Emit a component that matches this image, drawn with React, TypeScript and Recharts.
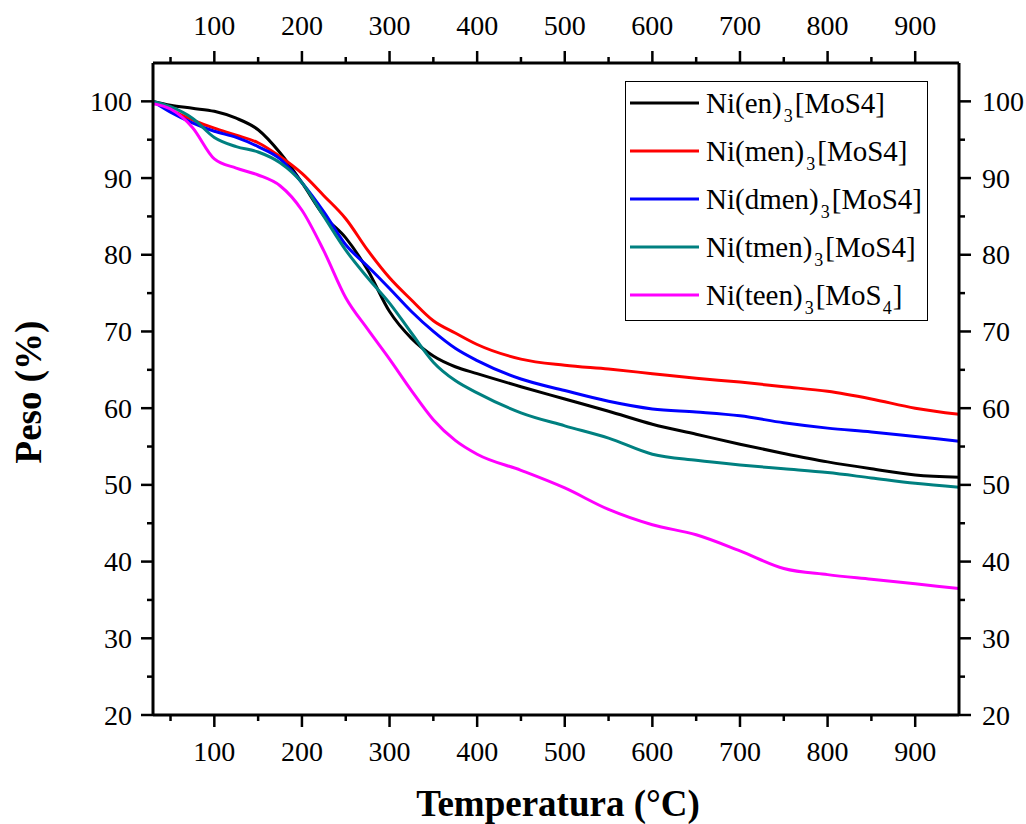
import React from 'react';
import { LineChart, Line, XAxis, YAxis, Legend } from 'recharts';

const FONT = '"Liberation Serif", "Times New Roman", Times, serif';

// Temperature (°C) sample points
const temperatures = [30, 50, 75, 100, 125, 150, 175, 200, 225, 250, 275, 300, 325, 350, 375, 400, 450, 500, 550, 600, 650, 700, 750, 800, 850, 900, 950];

// Weight (%) for each compound
const enValues = [100, 99.5, 99.1, 98.7, 97.8, 96.3, 93.3, 89.4, 85.1, 82.2, 78.0, 72.6, 69.1, 66.8, 65.4, 64.5, 62.8, 61.2, 59.6, 57.9, 56.6, 55.3, 54.1, 53.0, 52.1, 51.3, 51.0];
const menValues = [100, 98.9, 97.6, 96.5, 95.6, 94.6, 92.8, 90.6, 87.7, 84.7, 80.6, 77.0, 74.1, 71.4, 69.8, 68.3, 66.4, 65.6, 65.1, 64.5, 63.9, 63.4, 62.8, 62.2, 61.2, 60.0, 59.2];
const dmenValues = [100, 98.6, 97.2, 96.1, 95.3, 94.1, 92.5, 89.4, 85.6, 81.3, 78.5, 75.6, 72.6, 70.0, 67.8, 66.2, 63.8, 62.3, 60.9, 59.9, 59.5, 59.0, 58.1, 57.4, 56.9, 56.3, 55.7];
const tmenValues = [100, 99.3, 97.8, 95.3, 94.1, 93.4, 92.0, 89.4, 85.0, 80.6, 77.0, 73.7, 69.8, 66.0, 63.6, 62.0, 59.4, 57.7, 56.1, 54.0, 53.2, 52.6, 52.1, 51.6, 50.9, 50.2, 49.7];
const teenValues = [99.7, 99.0, 96.6, 92.5, 91.3, 90.4, 89.0, 85.8, 80.5, 74.4, 70.3, 66.4, 62.3, 58.5, 55.8, 54.0, 51.9, 49.6, 46.8, 44.8, 43.5, 41.4, 39.1, 38.3, 37.7, 37.1, 36.5];

// Ticks
const xTicks = [50, 100, 150, 200, 250, 300, 350, 400, 450, 500, 550, 600, 650, 700, 750, 800, 850, 900];
const xLabelStep = 100;
const yTicks = [20, 25, 30, 35, 40, 45, 50, 55, 60, 65, 70, 75, 80, 85, 90, 95, 100];
const yLabelStep = 10;

// Series metadata
const seriesKeys = ['en', 'men', 'dmen', 'tmen', 'teen'];
const seriesColors = ['#000000', '#FF0000', '#0000FF', '#008080', '#FF00FF'];
const seriesLigands = ['en', 'men', 'dmen', 'tmen', 'teen'];
const seriesSubscriptAnion = [false, false, false, false, true];

const data = temperatures.map((t, i) => ({
  t,
  en: enValues[i],
  men: menValues[i],
  dmen: dmenValues[i],
  tmen: tmenValues[i],
  teen: teenValues[i],
}));

const MAJOR = 12;
const MINOR = 6;
const TICK_FONT = 28;

const BottomTick = (props: any) => {
  const { x, y, payload } = props;
  const major = payload.value % xLabelStep === 0;
  return (
    <g>
      <line x1={x} y1={y} x2={x} y2={y + (major ? MAJOR : MINOR)} stroke="#000" strokeWidth={2.5} />
      {major && (
        <text x={x} y={y + 46} textAnchor="middle" fontFamily={FONT} fontSize={TICK_FONT} fill="#000">
          {payload.value}
        </text>
      )}
    </g>
  );
};

const TopTick = (props: any) => {
  const { x, y, payload } = props;
  const major = payload.value % xLabelStep === 0;
  return (
    <g>
      <line x1={x} y1={y} x2={x} y2={y - (major ? MAJOR : MINOR)} stroke="#000" strokeWidth={2.5} />
      {major && (
        <text x={x} y={y - 28} textAnchor="middle" fontFamily={FONT} fontSize={TICK_FONT} fill="#000">
          {payload.value}
        </text>
      )}
    </g>
  );
};

const LeftTick = (props: any) => {
  const { x, y, payload } = props;
  const major = payload.value % yLabelStep === 0;
  return (
    <g>
      <line x1={x - (major ? MAJOR : MINOR)} y1={y} x2={x} y2={y} stroke="#000" strokeWidth={2.5} />
      {major && (
        <text x={x - 21} y={y} dy="0.34em" textAnchor="end" fontFamily={FONT} fontSize={TICK_FONT} fill="#000">
          {payload.value}
        </text>
      )}
    </g>
  );
};

const RightTick = (props: any) => {
  const { x, y, payload } = props;
  const major = payload.value % yLabelStep === 0;
  return (
    <g>
      <line x1={x} y1={y} x2={x + (major ? MAJOR : MINOR)} y2={y} stroke="#000" strokeWidth={2.5} />
      {major && (
        <text x={x + 23} y={y} dy="0.34em" textAnchor="start" fontFamily={FONT} fontSize={TICK_FONT} fill="#000">
          {payload.value}
        </text>
      )}
    </g>
  );
};

const XTitle = () => (
  <text x={558} y={816} textAnchor="middle" fontFamily={FONT} fontSize={37} fontWeight="bold" fill="#000">
    Temperatura (°C)
  </text>
);

const YTitle = () => (
  <text
    x={0}
    y={0}
    transform="translate(41, 392) rotate(-90)"
    textAnchor="middle"
    fontFamily={FONT}
    fontSize={37}
    fontWeight="bold"
    fill="#000"
  >
    Peso (%)
  </text>
);

const LegendBox = () => (
  <div
    style={{
      position: 'relative',
      width: 303,
      height: 240,
      boxSizing: 'border-box',
      border: '1.5px solid #000',
      background: '#fff',
      fontFamily: FONT,
      fontSize: 29,
      color: '#000',
    }}
  >
    {seriesKeys.map((k, i) => (
      <div
        key={k}
        style={{
          position: 'absolute',
          left: 0,
          top: 20.7 + i * 48 - 16,
          height: 32,
          lineHeight: '32px',
          whiteSpace: 'nowrap',
        }}
      >
        <svg width={72} height={32} style={{ position: 'absolute', left: 3, top: 0 }}>
          <line x1={1} y1={16} x2={70} y2={16} stroke={seriesColors[i]} strokeWidth={3} />
        </svg>
        <span style={{ position: 'absolute', left: 80, top: 0 }}>
          Ni({seriesLigands[i]})
          <span style={{ fontSize: 18, position: 'relative', top: 9, margin: '0 2px' }}>3</span>
          [MoS
          {seriesSubscriptAnion[i] ? (
            <span style={{ fontSize: 18, position: 'relative', top: 9, margin: '0 1px' }}>4</span>
          ) : (
            '4'
          )}
          ]
        </span>
      </div>
    ))}
  </div>
);

export default function App() {
  return (
    <div style={{ position: 'absolute', left: 0, top: 0, width: 1026, height: 824, background: '#fff' }}>
      <LineChart width={1026} height={824} data={data} margin={{ top: 0, right: 0, bottom: 0, left: 0 }}>
        <XAxis
          xAxisId="bottom"
          dataKey="t"
          type="number"
          orientation="bottom"
          domain={[30, 950]}
          ticks={xTicks}
          interval={0}
          height={109}
          tickSize={0}
          tickMargin={0}
          tickLine={false}
          tick={(p: any) => <BottomTick {...p} />}
          axisLine={{ stroke: '#000', strokeWidth: 3 }}
          allowDataOverflow
        />
        <XAxis
          xAxisId="top"
          dataKey="t"
          type="number"
          orientation="top"
          domain={[30, 950]}
          ticks={xTicks}
          interval={0}
          height={63}
          tickSize={0}
          tickMargin={0}
          tickLine={false}
          tick={(p: any) => <TopTick {...p} />}
          axisLine={{ stroke: '#000', strokeWidth: 3 }}
          allowDataOverflow
        />
        <YAxis
          yAxisId="left"
          type="number"
          orientation="left"
          domain={[20, 105]}
          ticks={yTicks}
          interval={0}
          width={153}
          tickSize={0}
          tickMargin={0}
          tickLine={false}
          tick={(p: any) => <LeftTick {...p} />}
          axisLine={{ stroke: '#000', strokeWidth: 3 }}
          label={() => <YTitle />}
          allowDataOverflow
        />
        <YAxis
          yAxisId="right"
          type="number"
          orientation="right"
          domain={[20, 105]}
          ticks={yTicks}
          interval={0}
          width={67}
          tickSize={0}
          tickMargin={0}
          tickLine={false}
          tick={(p: any) => <RightTick {...p} />}
          axisLine={{ stroke: '#000', strokeWidth: 3 }}
          allowDataOverflow
        />
        {seriesKeys.map((k, i) => (
          <Line
            key={k}
            xAxisId="bottom"
            yAxisId="left"
            dataKey={k}
            type="monotone"
            stroke={seriesColors[i]}
            strokeWidth={3}
            dot={false}
            activeDot={false}
            isAnimationActive={false}
          />
        ))}
        <Legend
          layout="vertical"
          align="center"
          verticalAlign="middle"
          content={() => <LegendBox />}
          wrapperStyle={{ position: 'absolute', left: 625, top: 81, width: 303, height: 240, margin: 0 }}
        />
      </LineChart>
      <svg width={1026} height={824} style={{ position: 'absolute', left: 0, top: 0, pointerEvents: 'none' }}>
        <XTitle />
      </svg>
    </div>
  );
}
